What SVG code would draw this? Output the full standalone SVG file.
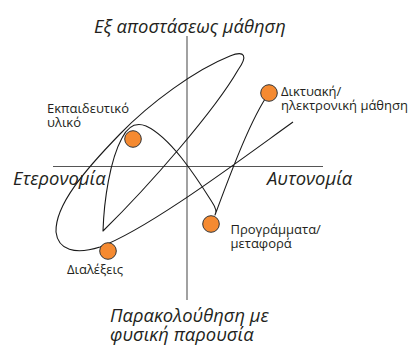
<svg xmlns="http://www.w3.org/2000/svg" width="413" height="347" viewBox="0 0 413 347">
<style>
.axis{stroke:#555;stroke-width:1.1;fill:none}
.curve{stroke:#1a1a1a;stroke-width:1.1;fill:none;stroke-linejoin:round}
.dot{fill:#F58A31;stroke:#333;stroke-width:1}
.big{font-family:"Open Sans","Liberation Sans",sans-serif;font-style:italic;font-size:18.4px;fill:#231f20}
.lbl{font-family:"Open Sans","Liberation Sans",sans-serif;font-size:13px;fill:#231f20}
</style>
<rect width="413" height="347" fill="#fff"/>
<g id="axes">
<line class="axis" x1="187" y1="36" x2="187" y2="300"/>
<line class="axis" x1="53" y1="166.5" x2="323" y2="166.5"/>
</g>
<g id="connectors">
<path class="curve" d="M293,122 C240,160 150,228 100,247 C75,255 58,250 56,232 C55,205 85,170 120,134 C150,103 195,70 230,56 C245,50 248,56 238,70 C215,110 150,185 103,231 C104,200 110,160 122,138 C128,126 136,122 146,126 C170,137 195,175 212,202 C216,208 217,212 215,215 C230,175 250,120 269,93"/>
</g>
<g id="axis-labels">
<text class="big" x="94" y="33">Εξ αποστάσεως μάθηση</text>
<text class="big" x="13" y="185">Ετερονομία</text>
<text class="big" x="267" y="185">Αυτονομία</text>
<text class="big" x="110" y="321.5">Παρακολούθηση με</text>
<text class="big" x="110" y="341">φυσική παρουσία</text>
</g>
<g id="node-diktyaki">
<circle class="dot" cx="269" cy="93" r="8.3"/>
<text class="lbl" x="281" y="95.5">Δικτυακή/</text>
<text class="lbl" x="281" y="109.5">ηλεκτρονική μάθηση</text>
</g>
<g id="node-ekpaideftiko">
<circle class="dot" cx="133" cy="139" r="8.3"/>
<text class="lbl" x="47" y="113">Εκπαιδευτικό</text>
<text class="lbl" x="47" y="127">υλικό</text>
</g>
<g id="node-programmata">
<circle class="dot" cx="211" cy="224" r="8.3"/>
<text class="lbl" x="230.5" y="234">Προγράμματα/</text>
<text class="lbl" x="230.5" y="247.5">μεταφορά</text>
</g>
<g id="node-dialexeis">
<circle class="dot" cx="108" cy="251" r="8.3"/>
<text class="lbl" x="67" y="274">Διαλέξεις</text>
</g>
</svg>
